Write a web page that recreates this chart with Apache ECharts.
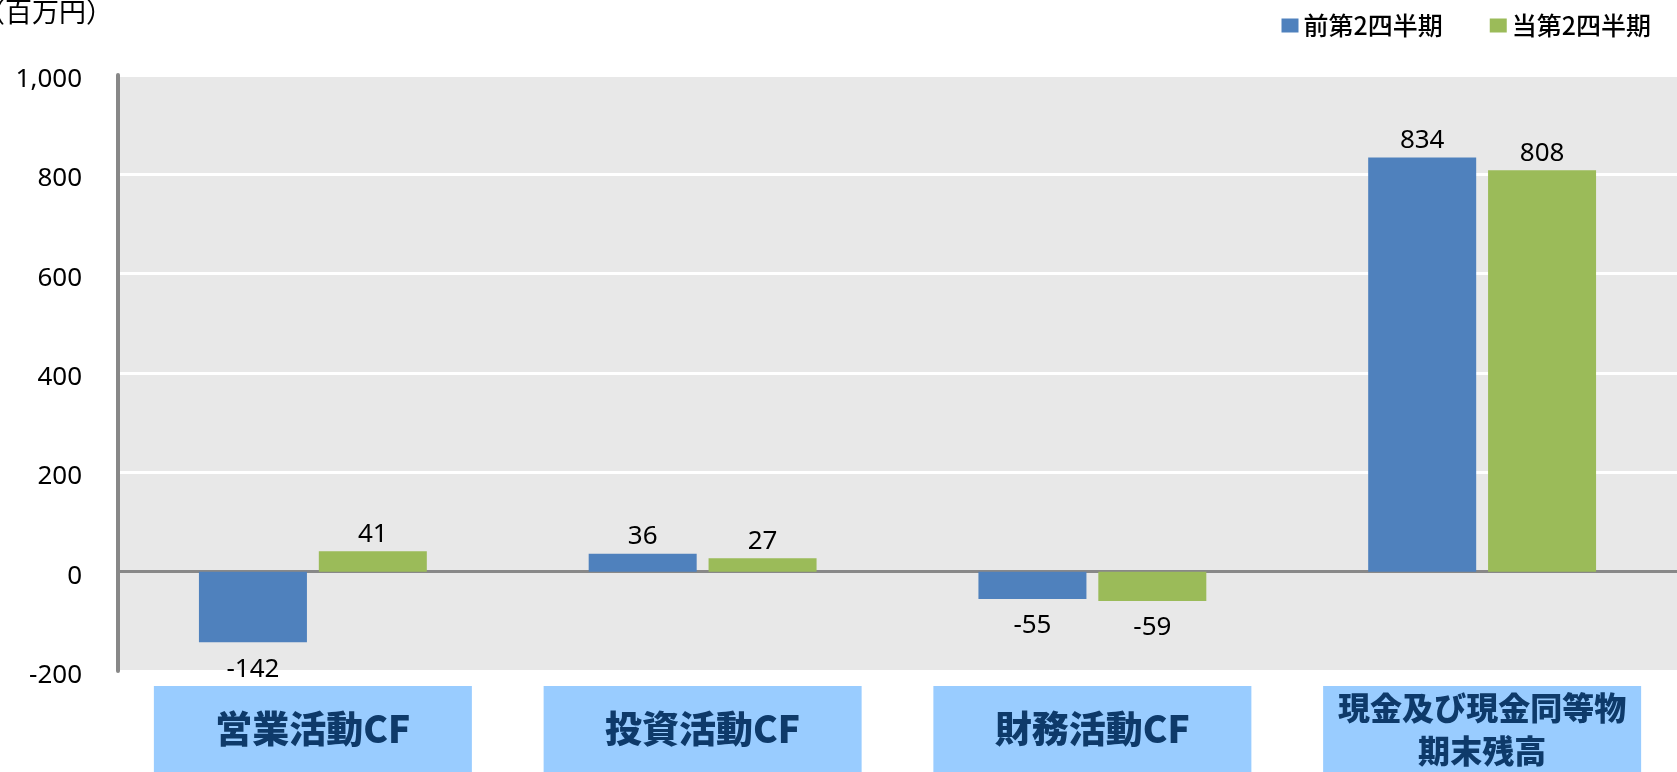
<!DOCTYPE html>
<html><head><meta charset="utf-8">
<script src="https://cdn.jsdelivr.net/npm/echarts@6/dist/echarts.min.js"></script>
<style>html,body{margin:0;padding:0;background:#fff}#c{width:1677px;height:772px}</style>
</head><body><div id="c"></div>
<script>
const categories = ['営業活動CF', '投資活動CF', '財務活動CF', '現金及び現金同等物\n期末残高'];
const seriesNames = ['前第2四半期', '当第2四半期'];
const prevValues = [-142, 36, -55, 834];
const currValues = [41, 27, -59, 808];
const yTicks = { min: -200, max: 1000, interval: 200 };
const unitLabel = '（百万円）';

const FONT = '"Noto Sans CJK JP", "Noto Sans", sans-serif';
const NUMFONT = '"Noto Sans", "Noto Sans CJK JP", sans-serif';
function toItems(arr) {
  return arr.map(v => ({
    value: v,
    label: { position: v < 0 ? 'bottom' : 'top', distance: v < 0 ? 14 : 4 }
  }));
}
const chart = echarts.init(document.getElementById('c'), null, { renderer: 'canvas' });
chart.setOption({
  animation: false,
  textStyle: { fontFamily: FONT },
  graphic: [{
    type: 'text', right: 1677 - 113, top: -2,
    style: { text: unitLabel, font: '27px ' + FONT, fill: '#000', textAlign: 'right' }
  }],
  legend: {
    right: 21, top: 8, itemWidth: 17, itemHeight: 14, itemGap: 47, icon: 'rect',
    textStyle: { fontSize: 25, color: '#000', fontWeight: 500, fontFamily: FONT },
    data: seriesNames
  },
  grid: { left: 118, right: 0, top: 75, bottom: 101, show: true, backgroundColor: '#e8e8e8', borderWidth: 0 },
  xAxis: {
    type: 'category', data: categories,
    axisLine: { onZero: true, lineStyle: { color: '#888', width: 3 } },
    axisTick: { show: false },
    axisLabel: {
      interval: 0, margin: 15,
      formatter: function (v) {
        return v.indexOf('\n') >= 0
          ? v.split('\n').map(s => '{b|' + s + '}').join('\n')
          : '{a|' + v + '}';
      },
      backgroundColor: '#99ccff', width: 318, align: 'center',
      rich: {
        a: { fontSize: 37, fontWeight: 900, color: '#0e3a6a', lineHeight: 86, fontFamily: FONT, align: 'center' },
        b: { fontSize: 32, fontWeight: 900, color: '#0e3a6a', lineHeight: 43, fontFamily: FONT, align: 'center' }
      }
    }
  },
  yAxis: {
    type: 'value', min: yTicks.min, max: yTicks.max, interval: yTicks.interval,
    axisLine: { show: true, lineStyle: { color: '#888', width: 4 } },
    axisTick: { show: false },
    splitLine: { lineStyle: { color: '#fff', width: 3 } },
    axisLabel: {
      margin: 36,
      formatter: v => '{n|' + v.toLocaleString('en-US') + '}',
      rich: { n: { fontSize: 26, color: '#000', fontFamily: NUMFONT, padding: [9, 0, 0, 0] } }
    }
  },
  series: [
    {
      name: seriesNames[0], type: 'bar', data: toItems(prevValues), barWidth: 108, barGap: '11%',
      itemStyle: { color: '#4f81bd' },
      label: { show: true, fontSize: 26, color: '#000', fontFamily: NUMFONT }
    },
    {
      name: seriesNames[1], type: 'bar', data: toItems(currValues), barWidth: 108,
      itemStyle: { color: '#9bbb59' },
      label: { show: true, fontSize: 26, color: '#000', fontFamily: NUMFONT }
    }
  ]
});
</script></body></html>
